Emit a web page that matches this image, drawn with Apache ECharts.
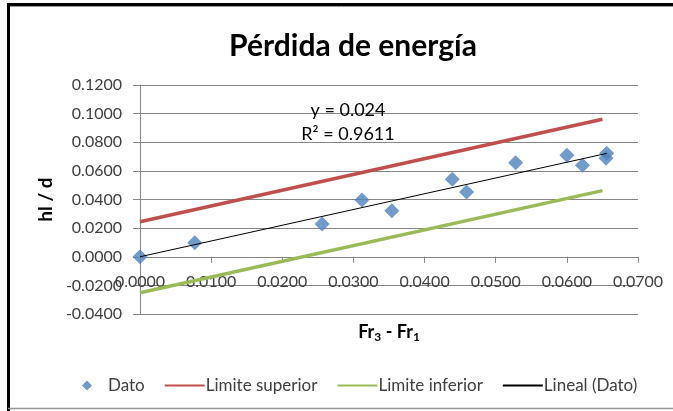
<!DOCTYPE html>
<html><head><meta charset="utf-8">
<script src="https://cdn.jsdelivr.net/npm/echarts@6/dist/echarts.min.js"></script>
<style>html,body{margin:0;padding:0;background:#fff}#c{width:673px;height:411px}</style>
</head><body><div id="c"></div>
<script>
// ---- data ----
const titleText = 'Pérdida de energía';
const seriesNames = ['Dato', 'Limite superior', 'Limite inferior', 'Lineal (Dato)'];
const datoX = [0.0000, 0.0077, 0.0256, 0.0312, 0.0354, 0.0439, 0.0459, 0.0528, 0.0600, 0.0622, 0.0656, 0.0655];
const datoY = [0.0000, 0.0098, 0.0229, 0.0396, 0.0322, 0.0541, 0.0452, 0.0657, 0.0709, 0.0639, 0.0723, 0.0688];
const limX = [0.0000, 0.0650];
const superiorY = [0.0245, 0.0961];
const inferiorY = [-0.0252, 0.0462];
const trendX = [0.0000, 0.0656];
const trendY = [0.0000, 0.0722];
const xTicks = {min: 0, max: 0.07, interval: 0.01};
const yTicks = {min: -0.04, max: 0.12, interval: 0.02};
const equationLines = ['y = 0.024', 'R² = 0.9611'];

const zip = (xs, ys) => xs.map((x, i) => [x, ys[i]]);
const FONT = 'Lato, "Open Sans", sans-serif';
const AX = '#868686';
const TXT = '#404040';
const W = 673, H = 411;
const GRID = {left: 140, right: 35, top: 85, bottom: 97};
const gridH = H - GRID.top - GRID.bottom;
// x axis crosses the y axis at value 0 (Excel style): shift it up from the grid bottom
const xAxisOffset = -(0 - yTicks.min) / (yTicks.max - yTicks.min) * gridH;
// small diamond centred in a 40x10 legend box (degenerate corner points keep the box size)
const legendDiamond = 'path://M0,0L0.01,0L0,0.01Z M40,10L39.99,10L40,9.99Z M20,0L25,5L20,10L15,5Z';

const chart = echarts.init(document.getElementById('c'), null, {renderer: 'canvas'});
chart.setOption({
  animation: false,
  backgroundColor: '#fff',
  textStyle: {fontFamily: FONT},
  title: {
    text: titleText, left: 348, top: 26, textAlign: 'center',
    textStyle: {fontFamily: FONT, fontSize: 30, fontWeight: 'bold', color: '#000'}
  },
  grid: GRID,
  xAxis: {
    type: 'value', min: xTicks.min, max: xTicks.max, interval: xTicks.interval,
    position: 'bottom', offset: xAxisOffset,
    axisLine: {show: true, onZero: false, lineStyle: {color: AX, width: 1}},
    axisTick: {show: true, length: 6, lineStyle: {color: AX}},
    splitLine: {show: false},
    axisLabel: {fontFamily: FONT, fontSize: 16, color: TXT, margin: 17, formatter: v => v.toFixed(4)},
    name: '{b|Fr}{s|3}{b| - Fr}{s|1}', nameLocation: 'middle', nameGap: 64,
    nameTextStyle: {
      rich: {
        b: {fontFamily: FONT, fontSize: 18, fontWeight: 'bold', color: '#000', lineHeight: 22},
        s: {fontFamily: FONT, fontSize: 12, fontWeight: 'bold', color: '#000', padding: [10, 0, 0, 0], lineHeight: 22}
      }
    }
  },
  yAxis: {
    type: 'value', min: yTicks.min, max: yTicks.max, interval: yTicks.interval,
    axisLine: {show: true, onZero: false, lineStyle: {color: AX, width: 1}},
    axisTick: {show: true, length: 7, lineStyle: {color: AX}},
    splitLine: {show: true, lineStyle: {color: AX, width: 1}},
    axisLabel: {fontFamily: FONT, fontSize: 16, color: TXT, margin: 18, formatter: v => v.toFixed(4)},
    name: 'hl / d', nameLocation: 'middle', nameGap: 84, nameRotate: 90,
    nameTextStyle: {fontFamily: FONT, fontSize: 19, fontWeight: 'bold', color: '#000'}
  },
  legend: {
    left: 62, top: 372, itemWidth: 40, itemHeight: 10, itemGap: 19,
    textStyle: {fontFamily: FONT, fontSize: 17, color: TXT, padding: [0, 0, 0, -4]},
    data: [
      {name: seriesNames[0], icon: legendDiamond},
      {name: seriesNames[1], itemStyle: {opacity: 0}},
      {name: seriesNames[2], itemStyle: {opacity: 0}},
      {name: seriesNames[3], itemStyle: {opacity: 0}}
    ]
  },
  series: [
    {name: seriesNames[0], type: 'scatter', data: zip(datoX, datoY), symbol: 'diamond', symbolSize: 15,
     itemStyle: {color: '#4F81BD'}, z: 3},
    {name: seriesNames[1], type: 'line', data: zip(limX, superiorY), symbol: 'none',
     lineStyle: {color: '#C0504D', width: 3.5}, itemStyle: {color: '#C0504D'}, z: 2},
    {name: seriesNames[2], type: 'line', data: zip(limX, inferiorY), symbol: 'none',
     lineStyle: {color: '#9BBB59', width: 3.5}, itemStyle: {color: '#9BBB59'}, z: 2},
    {name: seriesNames[3], type: 'line', data: zip(trendX, trendY), symbol: 'none',
     lineStyle: {color: '#000', width: 1}, itemStyle: {color: '#000'}, z: 4}
  ],
  graphic: [
    {type: 'text', x: 348, y: 98, z: 10,
     style: {text: equationLines.join('\n'), fontFamily: FONT, fontSize: 18, fill: '#000', align: 'center', verticalAlign: 'top', lineHeight: 24}},
    {type: 'line', shape: {x1: 8, y1: 4.5, x2: 673, y2: 4.5}, style: {stroke: '#000', lineWidth: 3}},
    {type: 'line', shape: {x1: 10, y1: 6.5, x2: 673, y2: 6.5}, style: {stroke: '#999', lineWidth: 1}},
    {type: 'line', shape: {x1: 8.5, y1: 3, x2: 8.5, y2: 411}, style: {stroke: '#000', lineWidth: 3}},
    {type: 'line', shape: {x1: 8, y1: 408.5, x2: 673, y2: 408.5}, style: {stroke: '#999', lineWidth: 1.5}}
  ]
});
</script>
</body></html>
